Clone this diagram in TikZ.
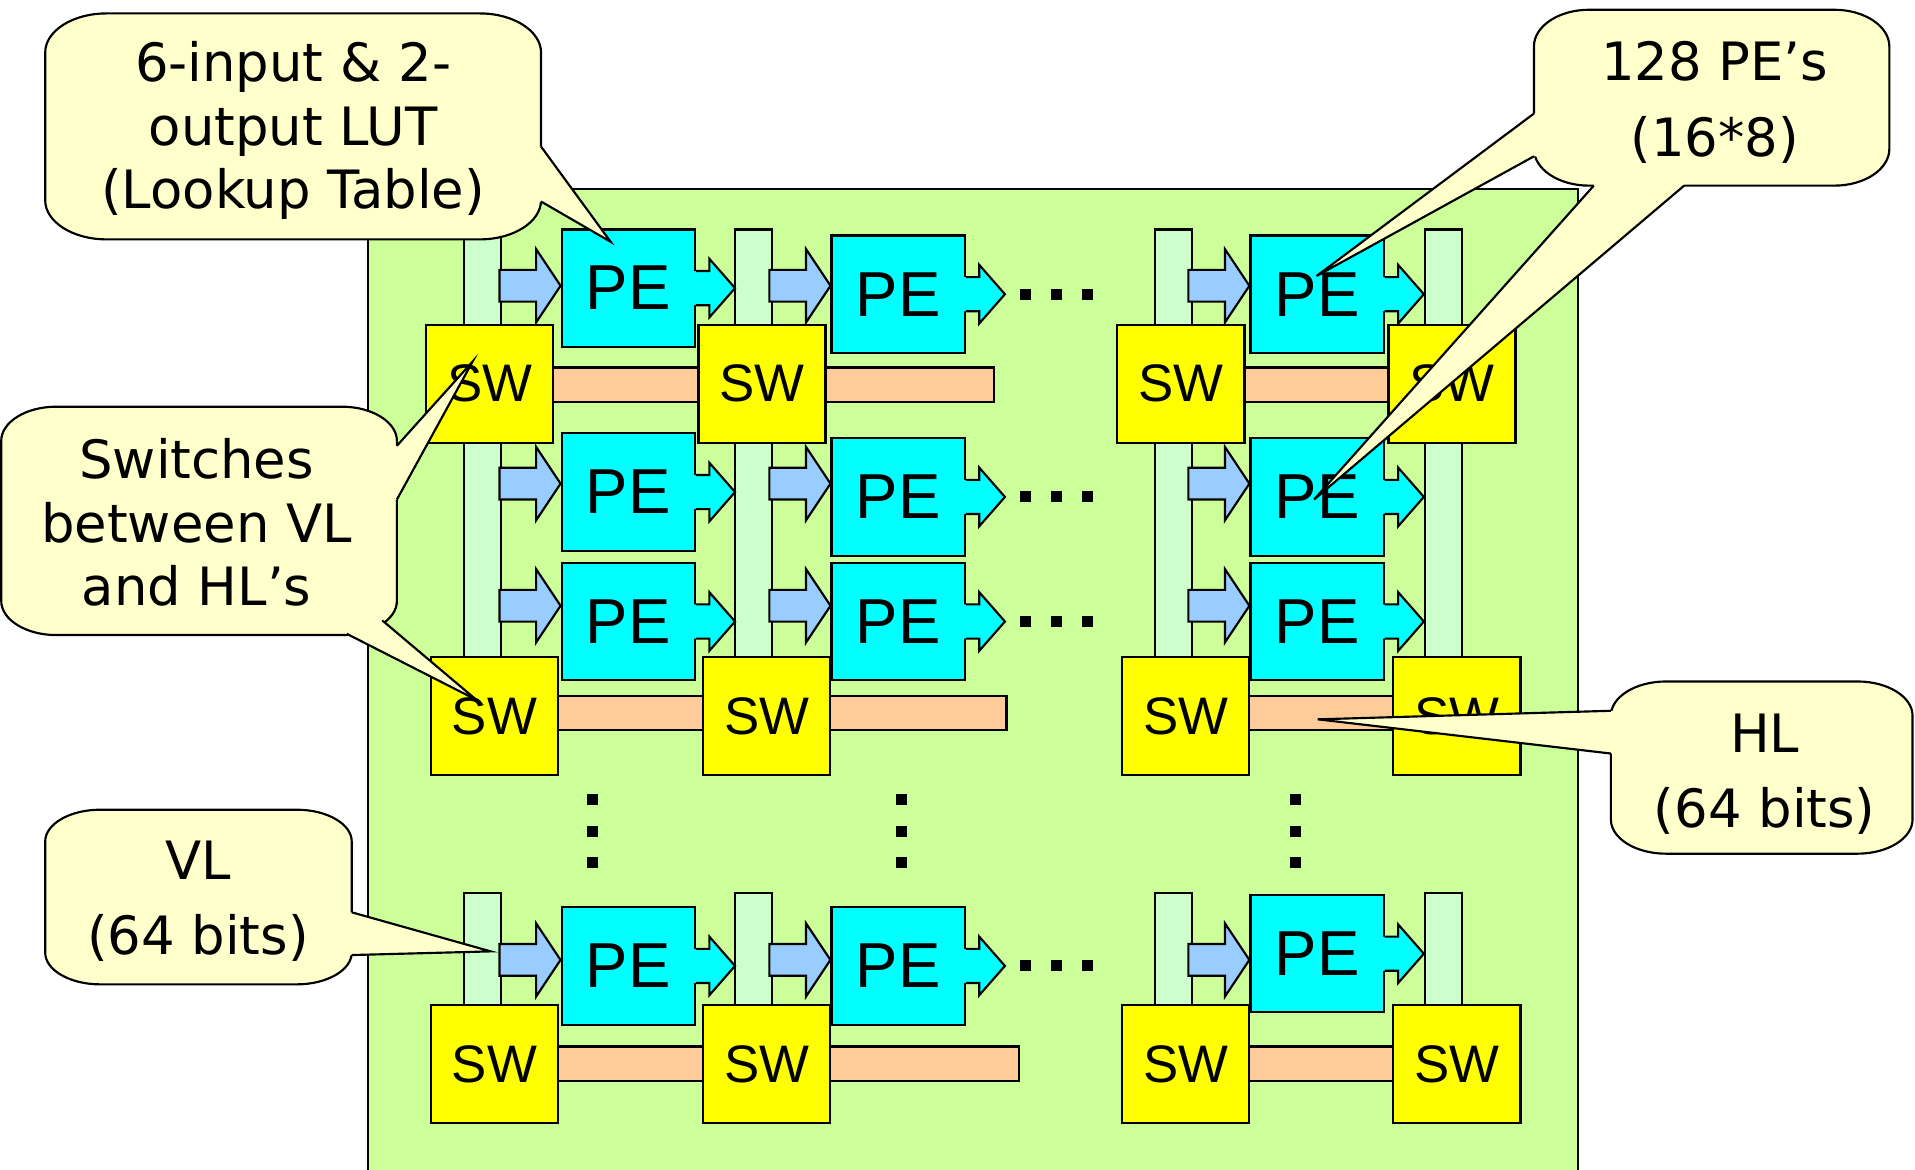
\documentclass[tikz,border=0pt]{standalone}
\usepackage{fontspec}
\usetikzlibrary{calc}
\newfontfamily\notefont{DejaVu Sans}
\newfontfamily\blockfont{Liberation Sans}
\definecolor{boardgreen}{HTML}{CCFF99}
\definecolor{vlgreen}{HTML}{CCFFCC}
\definecolor{pecyan}{HTML}{00FFFF}
\definecolor{inblue}{HTML}{99CCFF}
\definecolor{swyellow}{HTML}{FFFF00}
\definecolor{hlpeach}{HTML}{FFCC99}
\definecolor{notefill}{HTML}{FFFFCC}

% output arrow on the right side of a PE
\newcommand{\outarrow}[1]{%
  \fill[pecyan] ($(#1.east)+(-3,-14)$) -- ++(14,0) -- ++(0,-10) -- ++(21,24) -- ++(-21,24) -- ++(0,-10) -- ++(-14,0) -- cycle;
  \draw ($(#1.east)+(0,-14)$) -- ++(11,0) -- ++(0,-10) -- ++(21,24) -- ++(-21,24) -- ++(0,-10) -- ++(-11,0);
}
% input arrow from the VL into a PE
\newcommand{\inarrow}[2]{%
  \filldraw[fill=inblue] (#1.west |- 0,#2) -- ++(-20,-30) -- ++(0,17) -- ++(-30,0) -- ++(0,26) -- ++(30,0) -- ++(0,17) -- cycle;
}
% rounded callout box: x1, y1, x2, y2, rx, ry
\newcommand{\calloutbox}[6]{%
  \filldraw[fill=notefill] ({#1+#5},#2) -- ({#3-#5},#2) .. controls ({#3-0.45*#5},#2) and (#3,{#2+0.45*#6}) .. (#3,{#2+#6})
    -- (#3,{#4-#6}) .. controls (#3,{#4-0.45*#6}) and ({#3-0.45*#5},#4) .. ({#3-#5},#4)
    -- ({#1+#5},#4) .. controls ({#1+0.45*#5},#4) and (#1,{#4-0.45*#6}) .. (#1,{#4-#6})
    -- (#1,{#2+#6}) .. controls (#1,{#2+0.45*#6}) and ({#1+0.45*#5},#2) .. ({#1+#5},#2) -- cycle;
}
% callout tail: base, tip, base, inward shift
\newcommand{\calltail}[4]{%
  \fill[notefill] (#1) -- (#2) -- (#3) -- ($(#3)+(#4)$) -- ($(#1)+(#4)$) -- cycle;
  \draw (#1) -- (#2) -- (#3);
}

\begin{document}
\begin{tikzpicture}[x=0.01cm, y=-0.01cm, line width=0.5pt,
    pe/.style={draw, fill=pecyan, anchor=north west, minimum width=1.09cm, minimum height=0.96cm, inner sep=0pt, font=\blockfont\fontsize{14.8}{14.8}\selectfont},
    sw/.style={draw, fill=swyellow, anchor=north west, minimum width=1.04cm, minimum height=0.965cm, inner sep=0pt, font=\blockfont\fontsize{12.3}{12.3}\selectfont},
    vlbar/.style={draw, fill=vlgreen, anchor=north west, minimum width=0.3cm, inner sep=0pt},
    hlbar/.style={draw, fill=hlpeach, anchor=north west, minimum height=0.28cm, inner sep=0pt},
    note/.style={align=center, inner sep=0pt, font=\notefont\fontsize{12.3}{14.8}\selectfont},
    notewide/.style={note, font=\notefont\fontsize{12.3}{17.6}\selectfont}]
  \useasboundingbox (0,0) rectangle (1568,958);
  \draw[fill=boardgreen] (301,155) rectangle (1292,990);

  \foreach \x [count=\i] in {379,601,945,1166} {
    \node[vlbar, minimum height=3.73cm] (vla\i) at (\x,187) {};
    \node[vlbar, minimum height=1.1cm] (vlb\i) at (\x,730) {};
  }
  \foreach \r/\y/\a/\wa/\b/\wb in {1/300/400/4.13/966/2.24, 2/569/404/4.19/970/2.22, 4/856/404/4.29/970/2.22} {
    \node[hlbar, minimum width=\wa cm] (hl\r a) at (\a,\y) {};
    \node[hlbar, minimum width=\wb cm] (hl\r b) at (\b,\y) {};
  }

  \foreach \r/\ya/\yb/\yc/\by in {1/187/192/192/234, 2/354/358/358/396, 3/460/460/460/496, 4/742/742/732/786} {
    \foreach \c/\x/\y in {1/459/\ya, 2/680/\yb, 3/1023/\yc} {
      \node[pe] (pe\r\c) at (\x,\y) {PE};
      \outarrow{pe\r\c}
      \inarrow{pe\r\c}{\by}
    }
    \foreach \dx in {49,74,100}
      \fill ($(pe\r2.east)+(\dx,0)$) +(-4.5,-4.5) rectangle +(4.5,4.5);
  }

  \foreach \r/\y/\s in {1/265/-4, 2/537/0, 4/822/0} {
    \foreach \x [count=\c] in {352,575,918,1140}
      \node[sw] (sw\r\c) at (\x+\s,\y) {SW};
  }

  \foreach \x in {485,738,1061}
    \foreach \y in {655,680.5,706}
      \fill (\x-4.5,\y-4.5) rectangle (\x+4.5,\y+4.5);

  % callouts
  \calloutbox{37}{11}{443}{196}{50}{32}
  \calltail{443,120}{$(pe11.north west)+(41,11)$}{443,165}{-4,0}
  \node[note] (lutnote) at (240,107) {6-input \& 2-\\output LUT\\(Lookup Table)};

  \calloutbox{1256}{8}{1547}{152}{45}{30}
  \calltail{1256,93}{$(pe13.north west)+(55,34)$}{1256,128}{4,0}
  \calltail{1305,152}{$(pe23.north west)+(53,51)$}{1379,152}{0,-4}
  \node[notewide] (penote) at (1404,84) {128 PE’s\\(16*8)};

  \calloutbox{1}{333}{325}{520}{45}{28}
  \calltail{325,365}{$(sw11.north west)+(39,31)$}{325,409}{-4,0}
  \calltail{284,519}{$(sw21.north west)+(38,36)$}{313,508}{0,-4}
  \node[note] (swnote) at (161,428) {Switches\\between VL\\and HL’s};

  \calloutbox{37}{663}{288}{806}{45}{26}
  \calltail{288,747}{$(vlb1.north east)+(-9,49)$}{288,782}{-4,0}
  \node[notewide] (vlnote) at (162,738) {VL\\(64 bits)};

  \calloutbox{1319}{558}{1566}{699}{45}{28}
  \calltail{1319,582}{$(hl2b.north west)+(109,20)$}{1319,617}{4,0}
  \node[notewide] (hlnote) at (1445,634) {HL\\(64 bits)};
\end{tikzpicture}
\end{document}
